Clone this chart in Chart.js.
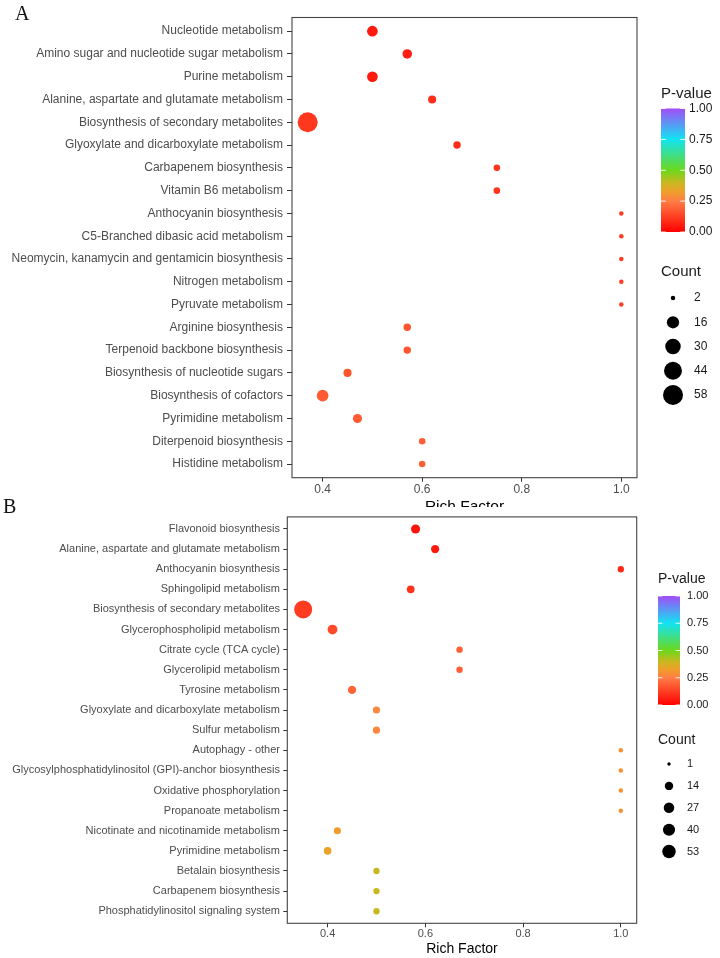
<!DOCTYPE html>
<html><head><meta charset="utf-8">
<script src="https://cdn.jsdelivr.net/npm/chart.js@4.4.1/dist/chart.umd.min.js"></script>
<style>
html,body{margin:0;padding:0;background:#fff;}
#wrap{position:relative;width:720px;height:958px;overflow:hidden;background:#fff;}
canvas{position:absolute;left:0;}
#cA{top:0;z-index:1;}
#cB{top:507px;background:#fff;z-index:2;}
.tag{position:absolute;font-family:"Liberation Serif","Times New Roman",serif;font-size:20px;line-height:20px;color:#111;z-index:5;}
</style></head><body>
<div id="wrap">
<canvas id="cA" width="720" height="530"></canvas>
<canvas id="cB" width="720" height="451"></canvas>
<div class="tag" style="left:15px;top:2.5px;">A</div>
<div class="tag" style="left:3px;top:496px;">B</div>
</div>
<script>
// ---------- Panel A data ----------
const categoriesA = [
  'Nucleotide metabolism','Amino sugar and nucleotide sugar metabolism','Purine metabolism',
  'Alanine, aspartate and glutamate metabolism','Biosynthesis of secondary metabolites',
  'Glyoxylate and dicarboxylate metabolism','Carbapenem biosynthesis','Vitamin B6 metabolism',
  'Anthocyanin biosynthesis','C5-Branched dibasic acid metabolism',
  'Neomycin, kanamycin and gentamicin biosynthesis','Nitrogen metabolism','Pyruvate metabolism',
  'Arginine biosynthesis','Terpenoid backbone biosynthesis','Biosynthesis of nucleotide sugars',
  'Biosynthesis of cofactors','Pyrimidine metabolism','Diterpenoid biosynthesis','Histidine metabolism'];
const richFactorA = [0.50,0.57,0.50,0.62,0.37,0.67,0.75,0.75,1.00,1.00,1.00,1.00,1.00,0.57,0.57,0.45,0.40,0.47,0.60,0.60];
const countA      = [11,8,11,5,58,4,3,3,2,2,2,2,2,4,4,5,14,7,3,3];
const pValueA     = [0.05,0.06,0.05,0.09,0.11,0.09,0.11,0.11,0.12,0.12,0.12,0.12,0.12,0.17,0.17,0.17,0.18,0.18,0.19,0.19];
const countBreaksA = [2,16,30,44,58];

// ---------- Panel B data ----------
const categoriesB = [
  'Flavonoid biosynthesis','Alanine, aspartate and glutamate metabolism','Anthocyanin biosynthesis',
  'Sphingolipid metabolism','Biosynthesis of secondary metabolites','Glycerophospholipid metabolism',
  'Citrate cycle (TCA cycle)','Glycerolipid metabolism','Tyrosine metabolism',
  'Glyoxylate and dicarboxylate metabolism','Sulfur metabolism','Autophagy - other',
  'Glycosylphosphatidylinositol (GPI)-anchor biosynthesis','Oxidative phosphorylation',
  'Propanoate metabolism','Nicotinate and nicotinamide metabolism','Pyrimidine metabolism',
  'Betalain biosynthesis','Carbapenem biosynthesis','Phosphatidylinositol signaling system'];
const richFactorB = [0.58,0.62,1.00,0.57,0.35,0.41,0.67,0.67,0.45,0.50,0.50,1.00,1.00,1.00,1.00,0.42,0.40,0.50,0.50,0.50];
const countB      = [7,5,2,4,53,9,2,2,5,3,3,1,1,1,1,3,4,2,2,2];
const pValueB     = [0.04,0.05,0.08,0.10,0.12,0.15,0.19,0.19,0.20,0.27,0.27,0.30,0.30,0.30,0.30,0.32,0.34,0.40,0.40,0.40];
const countBreaksB = [1,14,27,40,53];

// shared tick labels
const xTicks = [0.4,0.6,0.8,1.0];
const pTicks = [0,0.25,0.5,0.75,1];

// ---------- colour scale (style) ----------
const P_STOPS = [[0,'#ff0000'],[0.25,'#ff7d45'],[0.33,'#eea02a'],[0.40,'#c8b820'],[0.5,'#6cd81c'],[0.75,'#12e4f2'],[1,'#a24cf6']];
function hex(c){return [parseInt(c.slice(1,3),16),parseInt(c.slice(3,5),16),parseInt(c.slice(5,7),16)];}
function pColor(p){
  for(let i=1;i<P_STOPS.length;i++){
    const [p1,c1]=P_STOPS[i-1],[p2,c2]=P_STOPS[i];
    if(p<=p2){const t=(p-p1)/(p2-p1);const a=hex(c1),b=hex(c2);
      return 'rgb('+a.map((v,k)=>Math.round(v+(b[k]-v)*t)).join(',')+')';}
  }
  return P_STOPS[P_STOPS.length-1][1];
}

const FONT = '"Liberation Sans", Arial, Helvetica, sans-serif';
Chart.defaults.font.family = FONT;

const decor = {
  id:'panelDecor',
  afterDraw(chart, args, o){
    const ctx=chart.ctx, a=chart.chartArea, L=o.L;
    ctx.save();
    ctx.strokeStyle='#444'; ctx.lineWidth=1.1;
    ctx.strokeRect(a.left,a.top,a.right-a.left,a.bottom-a.top);
    // P-value colourbar
    ctx.fillStyle='#1a1a1a'; ctx.textAlign='left'; ctx.textBaseline='middle';
    ctx.font=L.legTitle+'px '+FONT;
    ctx.fillText('P-value', L.lx, L.pTitleY);
    const g=ctx.createLinearGradient(0,L.barBottom,0,L.barTop);
    P_STOPS.forEach(([p,c])=>g.addColorStop(p,c));
    ctx.fillStyle=g; ctx.fillRect(L.lx,L.barTop,L.barW,L.barBottom-L.barTop);
    ctx.font=L.legLabel+'px '+FONT;
    pTicks.forEach(p=>{
      const y=L.barBottom-(L.barBottom-L.barTop)*p;
      ctx.strokeStyle='rgba(255,255,255,0.9)'; ctx.lineWidth=1;
      ctx.beginPath();
      ctx.moveTo(L.lx,y);ctx.lineTo(L.lx+L.barW/5,y);
      ctx.moveTo(L.lx+L.barW*4/5,y);ctx.lineTo(L.lx+L.barW,y);
      ctx.stroke();
      ctx.fillStyle='#1a1a1a';
      ctx.fillText(p.toFixed(2), L.pLabelX, y);
    });
    // Count legend
    ctx.font=L.legTitle+'px '+FONT;
    ctx.fillText('Count', L.lx, L.cTitleY);
    ctx.font=L.legLabel+'px '+FONT;
    o.breaks.forEach((c,i)=>{
      const y=L.cStartY+i*L.cStep;
      ctx.fillStyle='#000';
      ctx.beginPath(); ctx.arc(L.cCircleX,y,o.rad(c)*L.legScale,0,Math.PI*2); ctx.fill();
      ctx.fillStyle='#1a1a1a';
      ctx.fillText(String(c), L.cLabelX, y);
    });
    ctx.restore();
  }
};

function buildChart(id, cats, rich, count, pv, breaks, L){
  const n=cats.length;
  const xmin=Math.min(...rich), xmax=Math.max(...rich), pad=(xmax-xmin)*0.05;
  const cmin=Math.min(...count), cmax=Math.max(...count);
  const rad=c=>(L.dMin+(L.dMax-L.dMin)*Math.sqrt((c-cmin)/(cmax-cmin)))/2;
  return new Chart(document.getElementById(id),{
    type:'scatter',
    data:{datasets:[{
      data:cats.map((c,i)=>({x:rich[i],y:i})),
      pointRadius:ctx=>rad(count[ctx.dataIndex]),
      pointHoverRadius:ctx=>rad(count[ctx.dataIndex]),
      pointBackgroundColor:ctx=>pColor(pv[ctx.dataIndex]),
      pointBorderWidth:0, pointHoverBorderWidth:0
    }]},
    options:{
      responsive:false, animation:false, events:[],
      layout:{padding:{left:0,top:L.top,right:720-L.right,bottom:0}},
      plugins:{legend:{display:false},tooltip:{enabled:false},panelDecor:{L:L,rad:rad,breaks:breaks}},
      scales:{
        x:{type:'linear',min:xmin-pad,max:xmax+pad,
          afterBuildTicks:s=>{s.ticks=xTicks.map(v=>({value:v}));},
          afterFit:s=>{s.height=L.canvasH-L.bottom;},
          ticks:{callback:v=>Number(v).toFixed(1),color:'#4d4d4d',font:{size:L.tickSize},padding:L.xTickPad,autoSkip:false,maxRotation:0},
          grid:{display:true,drawOnChartArea:false,drawTicks:true,tickLength:4,tickColor:'#333',color:'#333'},
          border:{display:false},
          title:{display:true,text:'Rich Factor',color:'#000',font:{size:L.axTitle},padding:{top:0,bottom:L.xTitlePadB}}
        },
        y:{type:'linear',reverse:true,min:-0.6,max:n-0.4,
          afterBuildTicks:s=>{s.ticks=cats.map((c,i)=>({value:i}));},
          afterFit:s=>{s.width=L.left;},
          ticks:{callback:v=>cats[v],color:'#4d4d4d',font:{size:L.tickSize},padding:L.yTickPad,autoSkip:false},
          grid:{display:true,drawOnChartArea:false,drawTicks:true,tickLength:L.yTickLen,tickColor:'#333',color:'#333'},
          border:{display:false}
        }
      }
    },
    plugins:[decor]
  });
}

buildChart('cA',categoriesA,richFactorA,countA,pValueA,countBreaksA,{
  canvasH:530,left:292,right:637,top:17.5,bottom:477.7,
  tickSize:12,axTitle:15.5,xTickPad:1,xTitlePadB:14,yTickPad:4,yTickLen:5,
  dMin:4.5,dMax:20,legScale:1,
  lx:661,legTitle:15,legLabel:12,pTitleY:94,barW:24,barTop:108.5,barBottom:232,pLabelX:689,
  cTitleY:272,cStartY:298,cStep:24.25,cCircleX:673,cLabelX:694
});
buildChart('cB',categoriesB,richFactorB,countB,pValueB,countBreaksB,{
  canvasH:451,left:287.3,right:636.7,top:7,bottom:416.3,
  tickSize:11,axTitle:14,xTickPad:0,xTitlePadB:0,yTickPad:3.3,yTickLen:4,
  dMin:4.5,dMax:18,legScale:0.75,
  lx:658,legTitle:14,legLabel:11,pTitleY:72,barW:22,barTop:89,barBottom:198,pLabelX:687,
  cTitleY:233,cStartY:257,cStep:21.9,cCircleX:669,cLabelX:687
});
</script>
</body></html>
